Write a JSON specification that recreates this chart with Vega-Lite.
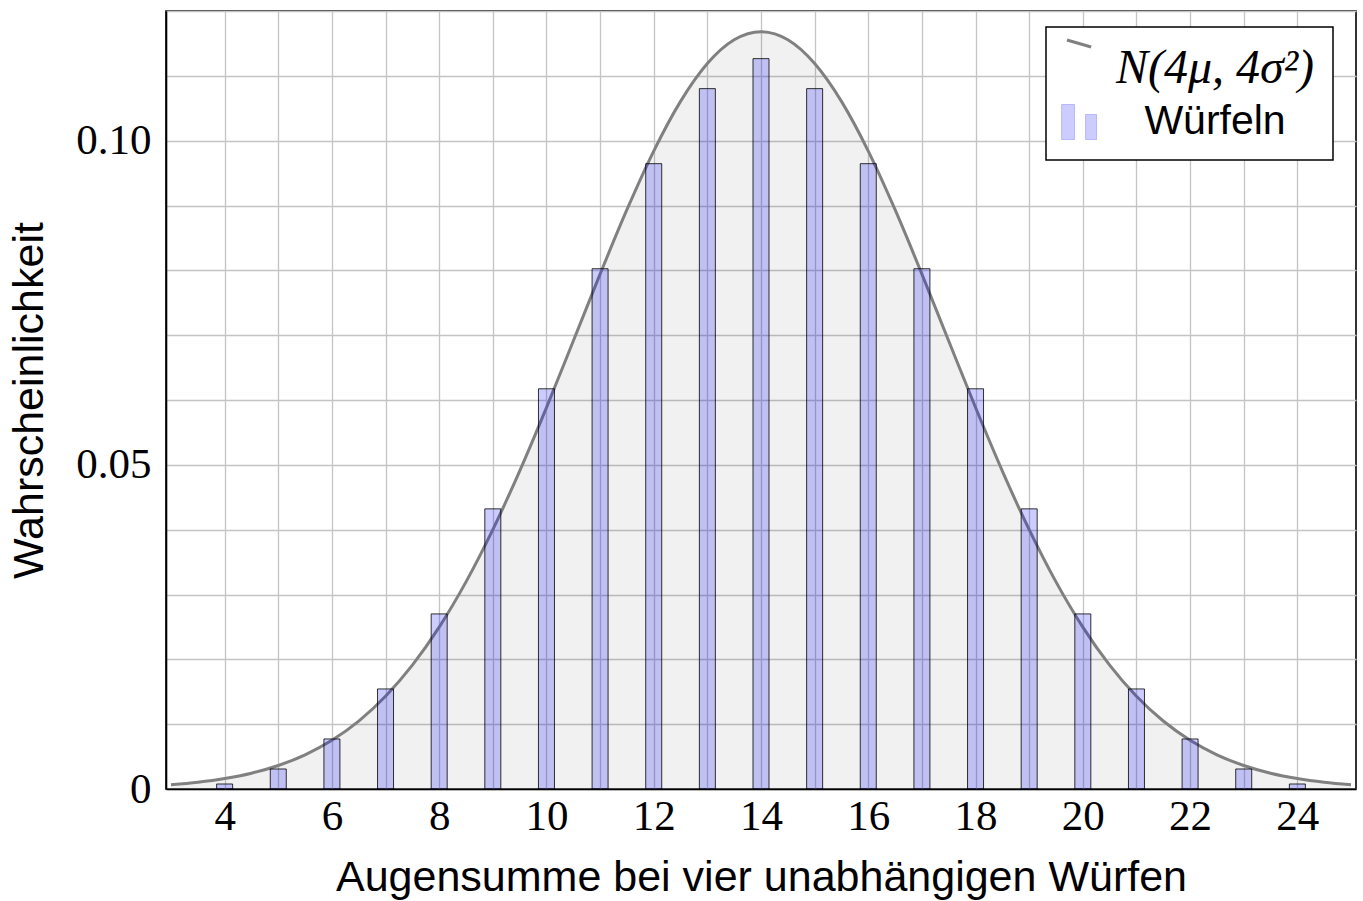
{
  "$schema": "https://vega.github.io/schema/vega-lite/v6.json",
  "width": 1190,
  "height": 778,
  "autosize": {"type": "none"},
  "padding": {"left": 166, "top": 11, "right": 7, "bottom": 112},
  "background": "white",
  "config": {
    "view": {"stroke": "black", "strokeWidth": 1.6, "strokeOpacity": 1},
    "axis": {
      "domain": true,
      "domainColor": "black",
      "domainWidth": 1.6,
      "ticks": false,
      "grid": true,
      "gridColor": "#c4c4c4",
      "gridWidth": 1.3,
      "labelFont": "Liberation Serif",
      "labelFontSize": 43,
      "labelColor": "black",
      "labelOverlap": false,
      "labelFlush": false,
      "titleFont": "Liberation Sans",
      "titleFontSize": 43,
      "titleFontWeight": "normal",
      "titleColor": "black"
    },
    "legend": {
      "orient": "none",
      "legendX": 880,
      "legendY": 16,
      "title": null,
      "fillColor": "white",
      "strokeColor": "black",
      "padding": 18,
      "rowPadding": 5,
      "symbolSize": 1225,
      "labelAlign": "center",
      "labelBaseline": "middle",
      "labelOffset": 103,
      "labelColor": "black",
      "labelFontSize": 41,
      "labelLimit": 400
    }
  },
  "datasets": {
    "curve": [
      {"x": 3, "p": 0.000654, "series": "N(4μ, 4σ²)"},
      {"x": 3.5, "p": 0.001036, "series": "N(4μ, 4σ²)"},
      {"x": 4, "p": 0.001608, "series": "N(4μ, 4σ²)"},
      {"x": 4.5, "p": 0.002441, "series": "N(4μ, 4σ²)"},
      {"x": 5, "p": 0.003629, "series": "N(4μ, 4σ²)"},
      {"x": 5.5, "p": 0.005280, "series": "N(4μ, 4σ²)"},
      {"x": 6, "p": 0.007520, "series": "N(4μ, 4σ²)"},
      {"x": 6.5, "p": 0.010483, "series": "N(4μ, 4σ²)"},
      {"x": 7, "p": 0.014303, "series": "N(4μ, 4σ²)"},
      {"x": 7.5, "p": 0.019101, "series": "N(4μ, 4σ²)"},
      {"x": 8, "p": 0.024968, "series": "N(4μ, 4σ²)"},
      {"x": 8.5, "p": 0.031945, "series": "N(4μ, 4σ²)"},
      {"x": 9, "p": 0.040006, "series": "N(4μ, 4σ²)"},
      {"x": 9.5, "p": 0.049038, "series": "N(4μ, 4σ²)"},
      {"x": 10, "p": 0.058835, "series": "N(4μ, 4σ²)"},
      {"x": 10.5, "p": 0.069093, "series": "N(4μ, 4σ²)"},
      {"x": 11, "p": 0.079419, "series": "N(4μ, 4σ²)"},
      {"x": 11.5, "p": 0.089352, "series": "N(4μ, 4σ²)"},
      {"x": 12, "p": 0.098398, "series": "N(4μ, 4σ²)"},
      {"x": 12.5, "p": 0.106061, "series": "N(4μ, 4σ²)"},
      {"x": 13, "p": 0.111898, "series": "N(4μ, 4σ²)"},
      {"x": 13.5, "p": 0.115553, "series": "N(4μ, 4σ²)"},
      {"x": 14, "p": 0.116798, "series": "N(4μ, 4σ²)"},
      {"x": 14.5, "p": 0.115553, "series": "N(4μ, 4σ²)"},
      {"x": 15, "p": 0.111898, "series": "N(4μ, 4σ²)"},
      {"x": 15.5, "p": 0.106061, "series": "N(4μ, 4σ²)"},
      {"x": 16, "p": 0.098398, "series": "N(4μ, 4σ²)"},
      {"x": 16.5, "p": 0.089352, "series": "N(4μ, 4σ²)"},
      {"x": 17, "p": 0.079419, "series": "N(4μ, 4σ²)"},
      {"x": 17.5, "p": 0.069093, "series": "N(4μ, 4σ²)"},
      {"x": 18, "p": 0.058835, "series": "N(4μ, 4σ²)"},
      {"x": 18.5, "p": 0.049038, "series": "N(4μ, 4σ²)"},
      {"x": 19, "p": 0.040006, "series": "N(4μ, 4σ²)"},
      {"x": 19.5, "p": 0.031945, "series": "N(4μ, 4σ²)"},
      {"x": 20, "p": 0.024968, "series": "N(4μ, 4σ²)"},
      {"x": 20.5, "p": 0.019101, "series": "N(4μ, 4σ²)"},
      {"x": 21, "p": 0.014303, "series": "N(4μ, 4σ²)"},
      {"x": 21.5, "p": 0.010483, "series": "N(4μ, 4σ²)"},
      {"x": 22, "p": 0.007520, "series": "N(4μ, 4σ²)"},
      {"x": 22.5, "p": 0.005280, "series": "N(4μ, 4σ²)"},
      {"x": 23, "p": 0.003629, "series": "N(4μ, 4σ²)"},
      {"x": 23.5, "p": 0.002441, "series": "N(4μ, 4σ²)"},
      {"x": 24, "p": 0.001608, "series": "N(4μ, 4σ²)"},
      {"x": 24.5, "p": 0.001036, "series": "N(4μ, 4σ²)"},
      {"x": 25, "p": 0.000654, "series": "N(4μ, 4σ²)"}
    ],
    "bars": [
      {"x": 4, "p": 0.000772, "series": "Würfeln"},
      {"x": 5, "p": 0.003086, "series": "Würfeln"},
      {"x": 6, "p": 0.007716, "series": "Würfeln"},
      {"x": 7, "p": 0.015432, "series": "Würfeln"},
      {"x": 8, "p": 0.027006, "series": "Würfeln"},
      {"x": 9, "p": 0.043210, "series": "Würfeln"},
      {"x": 10, "p": 0.061728, "series": "Würfeln"},
      {"x": 11, "p": 0.080247, "series": "Würfeln"},
      {"x": 12, "p": 0.096451, "series": "Würfeln"},
      {"x": 13, "p": 0.108025, "series": "Würfeln"},
      {"x": 14, "p": 0.112654, "series": "Würfeln"},
      {"x": 15, "p": 0.108025, "series": "Würfeln"},
      {"x": 16, "p": 0.096451, "series": "Würfeln"},
      {"x": 17, "p": 0.080247, "series": "Würfeln"},
      {"x": 18, "p": 0.061728, "series": "Würfeln"},
      {"x": 19, "p": 0.043210, "series": "Würfeln"},
      {"x": 20, "p": 0.027006, "series": "Würfeln"},
      {"x": 21, "p": 0.015432, "series": "Würfeln"},
      {"x": 22, "p": 0.007716, "series": "Würfeln"},
      {"x": 23, "p": 0.003086, "series": "Würfeln"},
      {"x": 24, "p": 0.000772, "series": "Würfeln"}
    ]
  },
  "encoding": {
    "x": {
      "field": "x",
      "type": "quantitative",
      "scale": {"domain": [3, 25], "nice": false, "zero": false},
      "axis": {
        "title": "Augensumme bei vier unabhängigen Würfen",
        "values": [4, 5, 6, 7, 8, 9, 10, 11, 12, 13, 14, 15, 16, 17, 18, 19, 20, 21, 22, 23, 24],
        "labelExpr": "datum.value % 2 == 0 ? datum.label : ''",
        "labelPadding": 6,
        "titlePadding": 18
      }
    },
    "y": {
      "field": "p",
      "type": "quantitative",
      "scale": {"domain": [0, 0.12], "nice": false},
      "axis": {
        "title": "Wahrscheinlichkeit",
        "values": [0, 0.01, 0.02, 0.03, 0.04, 0.05, 0.06, 0.07, 0.08, 0.09, 0.1, 0.11, 0.12],
        "labelExpr": "datum.value == 0 ? '0' : abs(datum.value - 0.05) < 0.000001 ? '0.05' : abs(datum.value - 0.1) < 0.000001 ? '0.10' : ''",
        "labelPadding": 15,
        "titlePadding": 24
      }
    }
  },
  "layer": [
    {
      "data": {"name": "curve"},
      "mark": {"type": "area", "fill": "black", "fillOpacity": 0.055, "interpolate": "monotone"},
      "encoding": {}
    },
    {
      "data": {"name": "curve"},
      "mark": {"type": "line", "strokeWidth": 3, "interpolate": "monotone"},
      "encoding": {
        "color": {
          "field": "series",
          "type": "nominal",
          "scale": {"domain": ["N(4μ, 4σ²)", "Würfeln"], "range": ["#808080", "rgba(0,0,255,0.2)"]},
          "legend": {
            "encode": {
              "legend": {"update": {"strokeWidth": {"value": 1.5}}},
              "symbols": {
                "update": {
                  "shape": {"signal": "datum.value == 'Würfeln' ? 'M-1.51,-1H-0.77V1H-1.51Z M-0.14,-0.43H0.49V1H-0.14Z' : 'M-1.2,-1.66L0.18,-1.26'"},
                  "fill": {"signal": "datum.value == 'Würfeln' ? 'rgb(204,204,255)' : 'transparent'"},
                  "stroke": {"signal": "datum.value == 'Würfeln' ? '#333333' : '#808080'"},
                  "strokeWidth": {"signal": "datum.value == 'Würfeln' ? 1 : 3"},
                  "fillOpacity": {"value": 1},
                  "strokeOpacity": {"value": 1},
                  "opacity": {"value": 1}
                }
              },
              "labels": {
                "update": {
                  "font": {"signal": "datum.value == 'Würfeln' ? 'Liberation Sans' : 'Liberation Serif'"},
                  "fontStyle": {"signal": "datum.value == 'Würfeln' ? 'normal' : 'italic'"},
                  "fontSize": {"signal": "datum.value == 'Würfeln' ? 41 : 48"}
                }
              }
            }
          }
        }
      }
    },
    {
      "data": {"name": "bars"},
      "mark": {"type": "bar", "width": 16, "stroke": "black", "strokeWidth": 1, "strokeOpacity": 0.8},
      "encoding": {
        "color": {
          "field": "series",
          "type": "nominal",
          "legend": {
            "encode": {
              "legend": {"update": {"strokeWidth": {"value": 1.5}}},
              "symbols": {
                "update": {
                  "shape": {"signal": "datum.value == 'Würfeln' ? 'M-1.51,-1H-0.77V1H-1.51Z M-0.14,-0.43H0.49V1H-0.14Z' : 'M-1.2,-1.66L0.18,-1.26'"},
                  "fill": {"signal": "datum.value == 'Würfeln' ? 'rgb(204,204,255)' : 'transparent'"},
                  "stroke": {"signal": "datum.value == 'Würfeln' ? '#333333' : '#808080'"},
                  "strokeWidth": {"signal": "datum.value == 'Würfeln' ? 1 : 3"},
                  "fillOpacity": {"value": 1},
                  "strokeOpacity": {"value": 1},
                  "opacity": {"value": 1}
                }
              },
              "labels": {
                "update": {
                  "font": {"signal": "datum.value == 'Würfeln' ? 'Liberation Sans' : 'Liberation Serif'"},
                  "fontStyle": {"signal": "datum.value == 'Würfeln' ? 'normal' : 'italic'"},
                  "fontSize": {"signal": "datum.value == 'Würfeln' ? 41 : 48"}
                }
              }
            }
          }
        }
      }
    }
  ]
}
